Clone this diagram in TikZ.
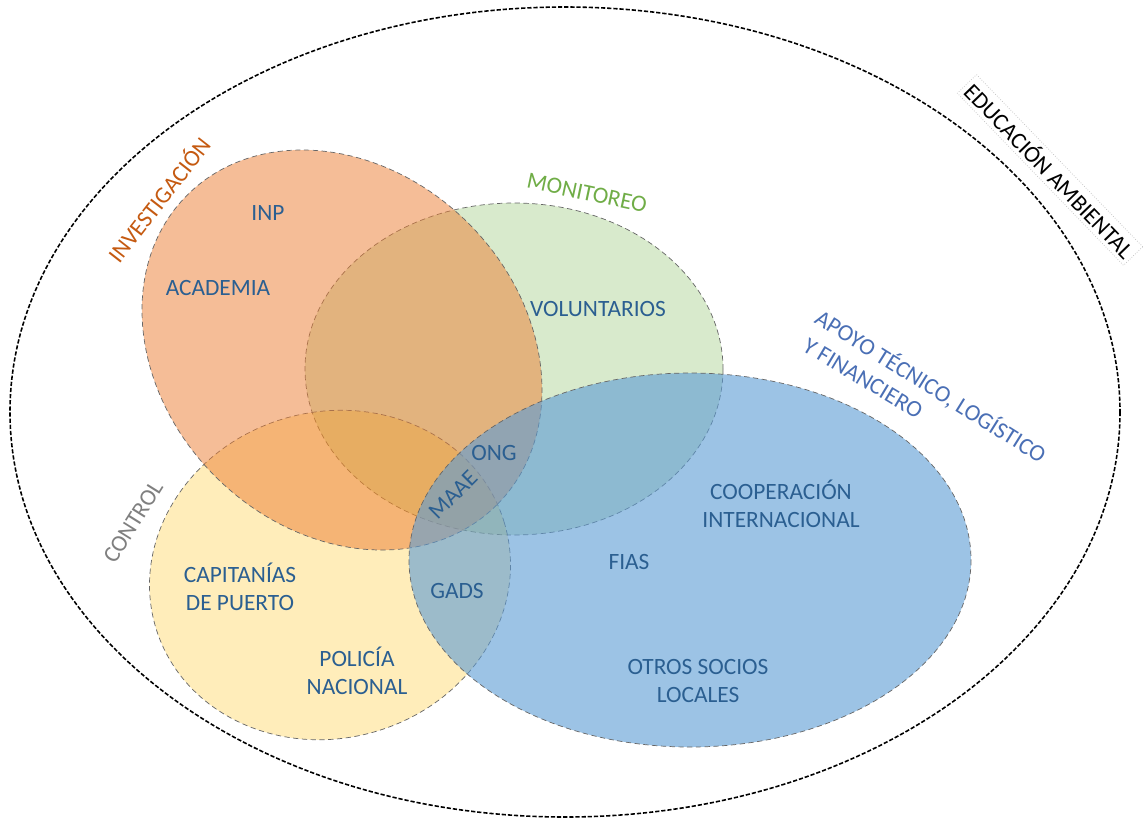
\documentclass[tikz,border=0pt]{standalone}
\usepackage{fontspec}
\setmainfont{Carlito}
\definecolor{itemblue}{HTML}{2B5F91}
\definecolor{invcol}{HTML}{C55A11}
\definecolor{moncol}{HTML}{70AD47}
\definecolor{ctrlcol}{HTML}{7F7F7F}
\definecolor{apoyocol}{HTML}{4A6FB5}
\definecolor{orfill}{HTML}{ED7D31}
\definecolor{grfill}{HTML}{A9D18E}
\definecolor{yefill}{HTML}{FFC000}
\definecolor{blfill}{HTML}{5B9BD5}
\begin{document}
\begin{tikzpicture}[x=0.02cm,y=-0.02cm,
  venn/.style={draw=black!60, densely dashed, line width=0.4pt},
  outerline/.style={draw=black, dash pattern=on 2.4pt off 1.1pt, line width=0.9pt},
  lbl/.style={text=itemblue, font=\fontsize{13.3}{15.9}\selectfont, align=center, inner sep=0pt},
  cat/.style={font=\fontsize{13.3}{15.9}\selectfont, inner sep=0pt}]
\useasboundingbox (0,0) rectangle (1148,819);
\fill[white] (0,0) rectangle (1148,819);
% outer set
\path[outerline] (565,412) ellipse [x radius=555, y radius=405];
% sets
\path[venn, fill=grfill, fill opacity=0.45] (514,369) ellipse [x radius=209, y radius=166];
\path[venn, fill=yefill, fill opacity=0.27, rotate around={17:(330,575)}] (330,575) ellipse [x radius=182, y radius=163];
\path[venn, fill=orfill, fill opacity=0.5, rotate around={-45:(342,350)}] (342,350) ellipse [x radius=219, y radius=179];
\path[venn, fill=blfill, fill opacity=0.6] (690,560) ellipse [x radius=281, y radius=187];
% category labels
\node[cat, text=invcol, rotate=52] (inv) at (158,199) {INVESTIGACIÓN};
\node[cat, text=moncol, rotate=-12] (mon) at (587,193) {MONITOREO};
\node[cat, text=ctrlcol, rotate=58] (ctrl) at (133,522) {CONTROL};
\node[cat, text=apoyocol, rotate=-32, anchor=base west] (apoyoA) at (813,322) {APOYO TÉCNICO, LOGÍSTICO};
\node[cat, text=apoyocol, rotate=-31, anchor=base west] (apoyoB) at (801,350) {Y FINANCIERO};
\node[cat, text=black, rotate=-46, draw=black!25, densely dotted, fill=white, inner sep=2pt] (edu) at (1050,170) {EDUCACIÓN AMBIENTAL};
% items
\node[lbl] (inp) at (268,213) {INP};
\node[lbl] (acad) at (218,288) {ACADEMIA};
\node[lbl] (vol) at (598,309) {VOLUNTARIOS};
\node[lbl] (ong) at (494,453) {ONG};
\node[lbl, rotate=45] (maae) at (453,495) {MAAE};
\node[lbl] (gads) at (457,591) {GADS};
\node[lbl] (cap) at (240,587) {CAPITANÍAS\\DE PUERTO};
\node[lbl] (pol) at (357,671) {POLICÍA\\NACIONAL};
\node[lbl] (coop) at (781,504) {COOPERACIÓN\\INTERNACIONAL};
\node[lbl] (fias) at (629,562) {FIAS};
\node[lbl] (otros) at (698,681) {OTROS SOCIOS\\LOCALES};
\end{tikzpicture}
\end{document}
